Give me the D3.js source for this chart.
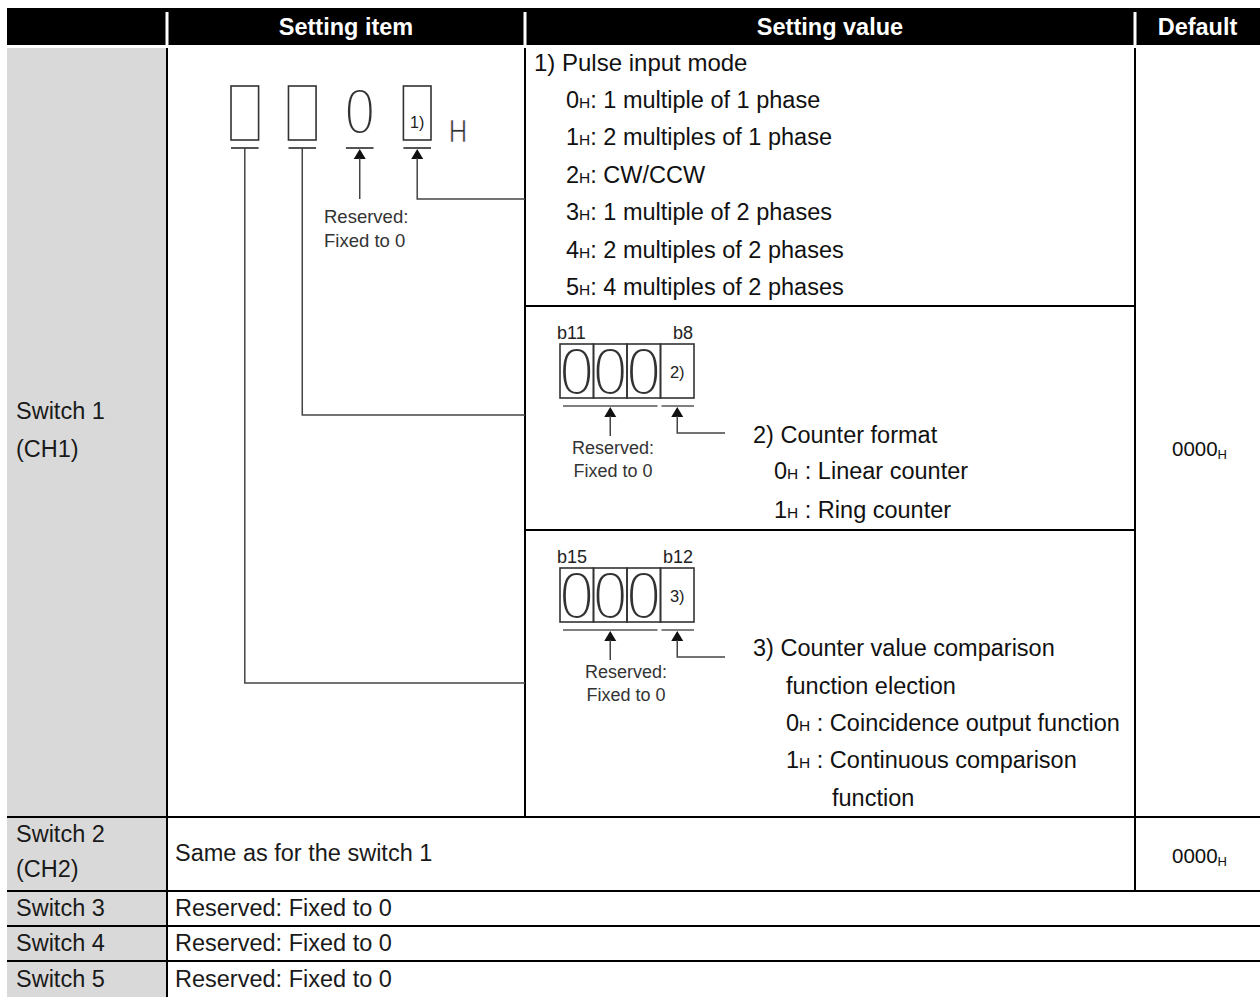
<!DOCTYPE html>
<html>
<head>
<meta charset="utf-8">
<script src="https://cdn.jsdelivr.net/npm/d3@7"></script>
<style>
  html, body { margin: 0; padding: 0; background: #fff; }
  svg { display: block; }
  text { font-family: "Liberation Sans", Arial, sans-serif; }
</style>
</head>
<body>
<svg id="chart" width="1260" height="997"></svg>
<script>
// ---------------- data ----------------
const headers = ["Setting item", "Setting value", "Default"];
const switchLabels = [["Switch 1", "(CH1)"], ["Switch 2", "(CH2)"], ["Switch 3"], ["Switch 4"], ["Switch 5"]];
const defaults = ["0000", "0000"];
const defaultSuffix = "H";
const pulseTitle = "1) Pulse input mode";
const pulseCodes = ["0", "1", "2", "3", "4", "5"];
const pulseModes = ["1 multiple of 1 phase", "2 multiples of 1 phase", "CW/CCW",
                    "1 multiple of 2 phases", "2 multiples of 2 phases", "4 multiples of 2 phases"];
const formatTitle = "2) Counter format";
const formatCodes = ["0", "1"];
const formatModes = ["Linear counter", "Ring counter"];
const compareTitle = ["3) Counter value comparison", "function election"];
const compareCodes = ["0", "1"];
const compareModes = [["Coincidence output function"], ["Continuous comparison", "function"]];
const topDigits = ["", "", "0", "1)"];
const bitGroups = [{hi: "b11", lo: "b8", mark: "2)"}, {hi: "b15", lo: "b12", mark: "3)"}];
const reservedLines = ["Reserved:", "Fixed to 0"];
const switch2Text = "Same as for the switch 1";
const reservedText = "Reserved: Fixed to 0";

// ---------------- layout ----------------
const FS = 23.5;           // body font size
const svg = d3.select("#chart");
const colX = d3.scaleOrdinal().domain(["left", "item", "value", "def", "right"]).range([7, 167, 525, 1135, 1260]);
const X = k => colX(k);

// gray label column
svg.append("rect").attr("x", X("left")).attr("y", 48).attr("width", X("item") - X("left")).attr("height", 997 - 48).attr("fill", "#d9d9d9");

// header
svg.append("rect").attr("x", X("left")).attr("y", 8).attr("width", 1260 - X("left")).attr("height", 37).attr("fill", "#000");
[X("item"), X("value"), X("def")].forEach(x => {
  svg.append("rect").attr("x", x - 1.5).attr("y", 12).attr("width", 3).attr("height", 33).attr("fill", "#fff");
});
const headCenters = [(X("item") + X("value")) / 2, (X("value") + X("def")) / 2, (X("def") + X("right")) / 2];
svg.selectAll("text.head").data(headers).join("text")
  .attr("class", "head")
  .attr("x", (d, i) => headCenters[i]).attr("y", 35)
  .attr("text-anchor", "middle").attr("fill", "#fff")
  .attr("font-size", FS).attr("font-weight", "bold")
  .text(d => d);

// table lines
const line = (x1, y1, x2, y2, w = 2, c = "#000") =>
  svg.append("line").attr("x1", x1).attr("y1", y1).attr("x2", x2).attr("y2", y2)
     .attr("stroke", c).attr("stroke-width", w);

line(X("item"), 48, X("item"), 997);
line(X("value"), 48, X("value"), 817);
line(X("def"), 48, X("def"), 891);
[817, 891, 926, 961].forEach(y => line(X("left"), y, 1260, y));
line(X("value"), 306, X("def"), 306);
line(X("value"), 530, X("def"), 530);

// switch labels
const labelCenters = [430, 851, 908, 943, 979];
switchLabels.forEach((lbl, i) => {
  const n = lbl.length;
  lbl.forEach((t, j) => {
    svg.append("text").attr("x", 16)
      .attr("y", labelCenters[i] + (j - (n - 1) / 2) * (i === 0 ? 38 : 35) + 8)
      .attr("font-size", FS).attr("fill", "#1a1a1a").text(t);
  });
});

// defaults
const defCenters = [449, 856];
defaults.forEach((d, i) => {
  const t = svg.append("text").attr("x", headCenters[2] + 2).attr("y", defCenters[i] + 7)
    .attr("text-anchor", "middle").attr("font-size", 20.5).attr("fill", "#111");
  t.append("tspan").text(d);
  t.append("tspan").attr("font-size", 13).attr("dy", 3).text(defaultSuffix);
});

// rows 2..5 texts
svg.append("text").attr("x", 175).attr("y", 861).attr("font-size", FS).attr("fill", "#1a1a1a").text(switch2Text);
[908, 943, 979].forEach(y => svg.append("text").attr("x", 175).attr("y", y + 8).attr("font-size", FS).attr("fill", "#1a1a1a").text(reservedText));

// ------------ Setting value sub cell 1 ------------
const codeLine = (x, yc, code, rest) => {
  const t = svg.append("text").attr("x", x).attr("y", yc + 8).attr("font-size", FS).attr("fill", "#111");
  t.append("tspan").text(code);
  t.append("tspan").attr("font-size", FS * 0.66).text("H");
  t.append("tspan").text(rest);
  return t;
};
svg.append("text").attr("x", 534).attr("y", 71).attr("font-size", 24).attr("fill", "#111").text(pulseTitle);
const pulseY = d3.scalePoint().domain(d3.range(pulseModes.length)).range([100, 287]);
pulseModes.forEach((m, i) => codeLine(566, pulseY(i), pulseCodes[i], ": " + m));

// ------------ helpers ------------
const gray = "#444";
const arrowUp = (x, yTip, size = 6) => {
  svg.append("path").attr("d", `M${x},${yTip} L${x - size},${yTip + 10} L${x + size},${yTip + 10} Z`).attr("fill", "#111");
};
const poly = (pts, w = 1.5, c = gray) =>
  svg.append("polyline").attr("points", pts.map(p => p.join(",")).join(" "))
    .attr("fill", "none").attr("stroke", c).attr("stroke-width", w);
// thin, condensed glyph: regular glyph thinned by a white outline stroke
const thinText = (x, y, sx, size, thin, txt) =>
  svg.append("text").attr("transform", `translate(${x},${y}) scale(${sx},1)`)
    .attr("text-anchor", "middle").attr("font-size", size)
    .attr("fill", "#333").attr("stroke", "#fff").attr("stroke-width", thin)
    .attr("stroke-linejoin", "round").text(txt);

// ------------ Setting item diagram ------------
const topX = d3.scaleBand().domain(d3.range(topDigits.length)).range([231, 431]).paddingInner(0.52).paddingOuter(0);
topDigits.forEach((d, i) => {
  const x0 = topX(i), w = topX.bandwidth();
  if (i === 2) {
    thinText(x0 + w / 2, 134, 0.86, 64, 2.9, d);
  } else {
    svg.append("rect").attr("x", x0).attr("y", 86).attr("width", w).attr("height", 54)
      .attr("fill", "none").attr("stroke", "#333").attr("stroke-width", 1.6);
    if (d) svg.append("text").attr("x", x0 + w / 2).attr("y", 128).attr("text-anchor", "middle")
      .attr("font-size", 16).attr("fill", "#222").text(d);
  }
  line(x0, 148, x0 + w, 148, 2, "#555");
});
thinText(458, 142, 0.8, 32, 0.7, "H");

const cx = i => topX(i) + topX.bandwidth() / 2;
poly([[cx(0), 148], [cx(0), 683], [X("value"), 683]]);
poly([[cx(1), 148], [cx(1), 415], [X("value"), 415]]);
arrowUp(cx(2), 149); poly([[cx(2), 158], [cx(2), 199]]);
reservedLines.forEach((t, j) => svg.append("text").attr("x", 324).attr("y", 223 + j * 24)
  .attr("font-size", 18.5).attr("fill", "#333").text(t));
arrowUp(cx(3), 149); poly([[cx(3), 158], [cx(3), 199], [X("value"), 199]]);

// ------------ bit groups ------------
const groupTops = [344, 568];
bitGroups.forEach((g, gi) => {
  const y0 = groupTops[gi];
  const bx = d3.scaleBand().domain(d3.range(4)).range([560, 694]).padding(0);
  const w = bx.bandwidth();
  svg.append("text").attr("x", 557).attr("y", y0 - 5).attr("font-size", 18).attr("fill", "#222").text(g.hi);
  svg.append("text").attr("x", 693).attr("y", y0 - 5).attr("text-anchor", "end").attr("font-size", 18).attr("fill", "#222").text(g.lo);
  d3.range(4).forEach(i => {
    if (i < 3) {
      thinText(bx(i) + w / 2, y0 + 51, 0.92, 68, 3.0, "0");
    } else {
      svg.append("text").attr("x", bx(i) + w / 2).attr("y", y0 + 34).attr("text-anchor", "middle")
        .attr("font-size", 16.5).attr("fill", "#222").text(g.mark);
    }
  });
  d3.range(4).forEach(i => {
    svg.append("rect").attr("x", bx(i)).attr("y", y0).attr("width", w).attr("height", 54)
      .attr("fill", "none").attr("stroke", "#333").attr("stroke-width", 1.6);
  });
  const uy = y0 + 62;
  line(bx(0) + 3, uy, bx(2) + w - 3, uy, 1.5, "#555");
  line(bx(3) + 1, uy, bx(3) + w, uy, 1.5, "#555");
  const ax1 = bx(1) + w / 2, ax2 = bx(3) + w / 2;
  arrowUp(ax1, uy + 1); poly([[ax1, uy + 10], [ax1, uy + 30]]);
  arrowUp(ax2, uy + 1); poly([[ax2, uy + 10], [ax2, uy + 27], [725, uy + 27]]);
  reservedLines.forEach((t, j) => svg.append("text").attr("x", gi === 0 ? 613 : 626).attr("y", y0 + 110 + j * 23)
    .attr("text-anchor", "middle").attr("font-size", 18).attr("fill", "#333").text(t));
});

// sub cell 2 text
svg.append("text").attr("x", 753).attr("y", 443).attr("font-size", FS).attr("fill", "#111").text(formatTitle);
formatModes.forEach((m, i) => codeLine(774, 471 + i * 39, formatCodes[i], " : " + m));

// sub cell 3 text
svg.append("text").attr("x", 753).attr("y", 656).attr("font-size", FS).attr("fill", "#111").text(compareTitle[0]);
svg.append("text").attr("x", 786).attr("y", 694).attr("font-size", FS).attr("fill", "#111").text(compareTitle[1]);
codeLine(786, 723, compareCodes[0], " : " + compareModes[0][0]);
codeLine(786, 760, compareCodes[1], " : " + compareModes[1][0]);
svg.append("text").attr("x", 832).attr("y", 806).attr("font-size", FS).attr("fill", "#111").text(compareModes[1][1]);
</script>
</body>
</html>
